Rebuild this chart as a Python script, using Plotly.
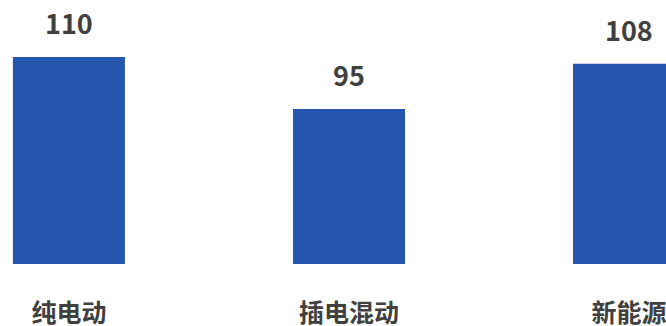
import plotly.graph_objects as go

categories = ["纯电动", "插电混动", "新能源"]
values = [110, 95, 108]

BAR_COLOR = "#2356AC"
TEXT_COLOR = "#404040"
FONT = "Noto Sans CJK SC"

fig = go.Figure(
    go.Bar(
        x=list(range(len(categories))),
        y=values,
        width=0.4,
        marker=dict(color=BAR_COLOR, line=dict(width=0)),
    )
)

# value labels above each bar
for i, v in enumerate(values):
    fig.add_annotation(
        x=i, y=v, xref="x", yref="y",
        text=f"<b>{v}</b>", showarrow=False,
        yanchor="middle", yshift=34,
        font=dict(family=FONT, size=27, color=TEXT_COLOR),
    )

fig.update_layout(
    width=666, height=326,
    margin=dict(l=0, r=0, t=0, b=62),
    paper_bgcolor="white", plot_bgcolor="white",
    showlegend=False,
    xaxis=dict(
        range=[-0.246, 2.132],
        tickmode="array",
        tickvals=list(range(len(categories))),
        ticktext=[f"<b>{c}</b>" for c in categories],
        tickfont=dict(family=FONT, size=25, color=TEXT_COLOR),
        ticklabelstandoff=32,
        ticklabeloverflow="allow",
        automargin=False,
        showgrid=False, zeroline=False, showline=False, ticks="",
    ),
    yaxis=dict(
        range=[50.3, 126.4],
        visible=False, showgrid=False, zeroline=False,
        automargin=False,
    ),
)

fig.write_html("out.html")
